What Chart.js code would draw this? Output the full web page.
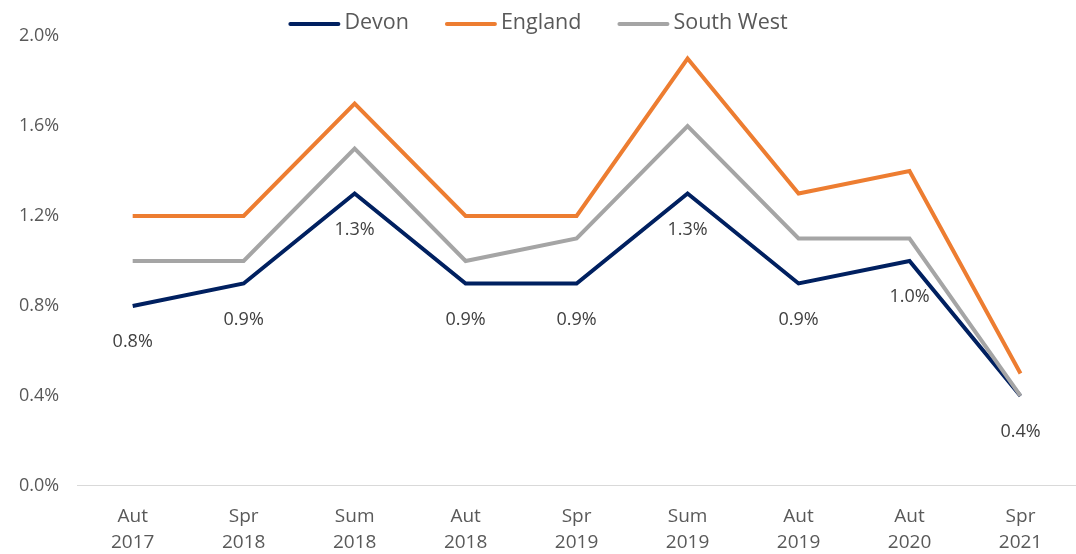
<!DOCTYPE html>
<html>
<head>
<meta charset="utf-8">
<script src="https://cdn.jsdelivr.net/npm/chart.js@4.4.0/dist/chart.umd.min.js"></script>
<style>
  html, body { margin: 0; padding: 0; background: #ffffff; }
  #wrap { width: 1076px; height: 554px; position: relative; }
</style>
</head>
<body>
<div id="wrap"><canvas id="c"></canvas></div>
<script>
const categories = [["Aut","2017"],["Spr","2018"],["Sum","2018"],["Aut","2018"],["Spr","2019"],["Sum","2019"],["Aut","2019"],["Aut","2020"],["Spr","2021"]];
const devon = [0.8, 0.9, 1.3, 0.9, 0.9, 1.3, 0.9, 1.0, 0.4];
const england = [1.2, 1.2, 1.7, 1.2, 1.2, 1.9, 1.3, 1.4, 0.5];
const southWest = [1.0, 1.0, 1.5, 1.0, 1.1, 1.6, 1.1, 1.1, 0.4];
const yTicks = [0.0, 0.4, 0.8, 1.2, 1.6, 2.0];

const FONT = '"Open Sans", Calibri, sans-serif';

const labelPlugin = {
  id: 'devonLabels',
  afterDatasetsDraw(chart) {
    const ctx = chart.ctx;
    const meta = chart.getDatasetMeta(0);
    ctx.save();
    ctx.font = '18px ' + FONT;
    ctx.fillStyle = '#404040';
    ctx.textAlign = 'center';
    ctx.textBaseline = 'middle';
    meta.data.forEach((pt, i) => {
      ctx.fillText(devon[i].toFixed(1) + '%', pt.x, pt.y + 36);
    });
    ctx.restore();
  }
};

const legendPlugin = {
  id: 'lineLegend',
  afterDraw(chart) {
    const ctx = chart.ctx;
    const ds = chart.data.datasets;
    const boxW = 52, gap = 4, itemGap = 36, y = 23;
    ctx.save();
    ctx.font = '21.5px ' + FONT;
    ctx.textBaseline = 'middle';
    const widths = ds.map(d => boxW + gap + ctx.measureText(d.label).width);
    const total = widths.reduce((a, b) => a + b, 0) + itemGap * (ds.length - 1);
    let x = (chart.width - total) / 2;
    ds.forEach((d, i) => {
      ctx.strokeStyle = d.borderColor;
      ctx.lineWidth = 4;
      ctx.lineCap = 'round';
      ctx.beginPath();
      ctx.moveTo(x + 2, y + 1);
      ctx.lineTo(x + boxW - 2, y + 1);
      ctx.stroke();
      ctx.fillStyle = '#595959';
      ctx.textAlign = 'left';
      ctx.fillText(d.label, x + boxW + gap, y);
      x += widths[i] + itemGap;
    });
    ctx.restore();
  }
};

new Chart(document.getElementById('c'), {
  type: 'line',
  data: {
    labels: categories,
    datasets: [
      { label: 'Devon', data: devon, borderColor: '#002060', backgroundColor: '#002060', borderWidth: 4, pointRadius: 0, tension: 0, order: 2 },
      { label: 'England', data: england, borderColor: '#ED7D31', backgroundColor: '#ED7D31', borderWidth: 4, pointRadius: 0, tension: 0, order: 1 },
      { label: 'South West', data: southWest, borderColor: '#A5A5A5', backgroundColor: '#A5A5A5', borderWidth: 4, pointRadius: 0, tension: 0, order: 0 }
    ]
  },
  options: {
    responsive: true,
    maintainAspectRatio: false,
    animation: false,
    layout: { padding: { left: 1, right: -3, top: 36, bottom: -20 } },
    plugins: {
      legend: { display: false },
      tooltip: { enabled: false }
    },
    scales: {
      x: {
        offset: true,
        grid: { display: false, drawTicks: false },
        border: { display: true, color: '#D9D9D9', width: 1 },
        ticks: { color: '#595959', font: { family: FONT, size: 19, lineHeight: 1.37 }, padding: 18, maxRotation: 0 }
      },
      y: {
        min: 0,
        max: 2.0,
        afterBuildTicks: (scale) => { scale.ticks = yTicks.map(v => ({ value: v })); },
        grid: { display: false, drawTicks: false },
        border: { display: false },
        ticks: {
          color: '#595959',
          font: { family: FONT, size: 18 },
          padding: 18,
          callback: (v) => Number(v).toFixed(1) + '%'
        }
      }
    }
  },
  plugins: [labelPlugin, legendPlugin]
});
</script>
</body>
</html>
